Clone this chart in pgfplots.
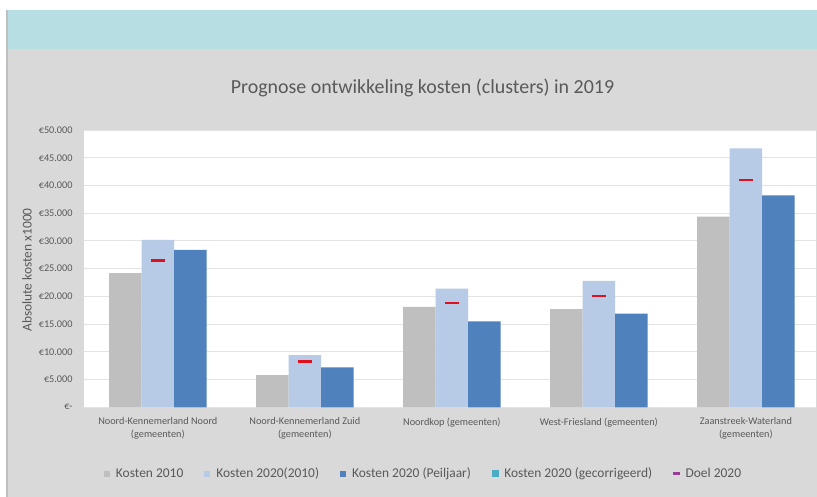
\documentclass[border=0pt]{standalone}
\usepackage{pgfplots}
\pgfplotsset{compat=1.18}
\usepackage{fontspec}
\setmainfont{Carlito}
\definecolor{bgGray}{HTML}{D9D9D9}
\definecolor{band}{HTML}{B7DFE3}
\definecolor{txt}{HTML}{595959}
\definecolor{c1}{HTML}{BFBFBF}
\definecolor{c2}{HTML}{B7CBE6}
\definecolor{c3}{HTML}{4F81BD}
\definecolor{c4}{HTML}{4BACC6}
\definecolor{doel}{HTML}{E0101E}
\definecolor{doelleg}{HTML}{9B3A9B}
\definecolor{gridc}{HTML}{E3E3E3}
\begin{document}
\begin{tikzpicture}
\path[use as bounding box] (0,0) rectangle (817bp,497bp);
\fill[white] (0,0) rectangle (817bp,497bp);
\fill[bgGray] (8bp,0) rectangle (817bp,448bp);
\fill[band] (8bp,448bp) rectangle (817bp,487bp);
\draw[c1, line width=2bp] (7bp,0) -- (7bp,487bp);
\node[txt, font=\fontsize{20}{24}\selectfont] at (422.5bp,409bp) {Prognose ontwikkeling kosten (clusters) in 2019};
\node[txt, rotate=90, font=\fontsize{13.5}{16}\selectfont] at (27bp,227bp) {Absolute kosten x1000};
\begin{axis}[
 at={(84.3bp,89.7bp)}, anchor=south west,
 scale only axis, width=731.7bp, height=277.3bp,
 xmin=-0.5, xmax=4.477, ymin=0, ymax=50000,
 axis background/.style={fill=white},
 axis line style={draw=none},
 major tick length=0,
 scaled y ticks=false,
 ymajorgrids, major grid style={gridc, line width=0.9bp},
 ytick={0,5000,...,50000},
 yticklabels={€-,€5.000,€10.000,€15.000,€20.000,€25.000,€30.000,€35.000,€40.000,€45.000,€50.000},
 yticklabel style={font=\fontsize{10.3}{12}\selectfont, text=txt, anchor=east, inner sep=0pt, xshift=-11.5bp},
 xtick={0,...,4},
 xticklabels={{Noord-Kennemerland Noord\\(gemeenten)},{Noord-Kennemerland Zuid\\(gemeenten)},{Noordkop (gemeenten)},{West-Friesland (gemeenten)},{Zaanstreek-Waterland\\(gemeenten)}},
 xticklabel style={font=\fontsize{10.3}{13}\selectfont, text=txt, align=center, anchor=north, inner sep=0pt, yshift=-10bp},
 legend style={at={(axis description cs:0.4636,-0.2390)}, anchor=center, draw=none, fill=none,
   font=\fontsize{13.5}{16}\selectfont, text=txt,
   /tikz/every even column/.append style={column sep=19bp},
   /tikz/every odd column/.append style={column sep=4bp}},
 legend columns=-1, legend cell align=left,
]
\addplot[ybar, bar width=32.5bp, bar shift=-32.5bp, fill=c1, draw=none,
  legend image code/.code={\fill[c1] (0bp,-3bp) rectangle (6bp,3bp);}]
  coordinates {(0,24200) (1,5800) (2,18100) (3,17700) (4,34400)};
\addlegendentry{Kosten 2010}
\addplot[ybar, bar width=32.5bp, bar shift=0bp, fill=c2, draw=none,
  legend image code/.code={\fill[c2] (0bp,-3bp) rectangle (6bp,3bp);}]
  coordinates {(0,30200) (1,9400) (2,21400) (3,22800) (4,46700)};
\addlegendentry{Kosten 2020(2010)}
\addplot[ybar, bar width=32.5bp, bar shift=32.5bp, fill=c3, draw=none,
  legend image code/.code={\fill[c3] (0bp,-3bp) rectangle (6bp,3bp);}]
  coordinates {(0,28400) (1,7200) (2,15500) (3,16900) (4,38200)};
\addlegendentry{Kosten 2020 (Peiljaar)}
\addlegendimage{legend image code/.code={\fill[c4] (0bp,-3bp) rectangle (6bp,3bp);}}
\addlegendentry{Kosten 2020 (gecorrigeerd)}
\addlegendimage{legend image code/.code={\fill[doelleg] (0bp,-1bp) rectangle (6bp,1bp);}}
\addlegendentry{Doel 2020}
\addplot[only marks, mark=-, mark size=7bp, mark options={doel, line width=2.6bp}, forget plot]
  coordinates {(0,26500) (1,8300) (2,18800) (3,20100) (4,41000)};
\end{axis}
\end{tikzpicture}
\end{document}
